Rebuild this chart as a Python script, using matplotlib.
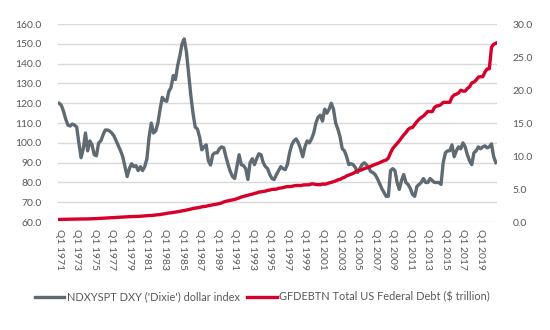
import matplotlib.pyplot as plt
from matplotlib.ticker import FormatStrFormatter, MultipleLocator

# quarterly series, Q1 1971 .. Q4 2020
years = list(range(1971, 2021))
quarters = [f"Q{q} {y}" for y in years for q in range(1, 5)]

dxy = [
    120.0, 119.0, 116.0, 112.0,   # 1971
    109.0, 108.5, 109.5, 109.0,   # 1972
    108.0, 100.0, 92.5, 97.0,     # 1973
    105.0, 96.0, 101.0, 99.0,     # 1974
    94.0, 93.5, 100.0, 101.0,     # 1975
    104.0, 106.5, 106.5, 106.0,   # 1976
    105.0, 103.5, 101.0, 98.5,    # 1977
    96.0, 93.0, 88.0, 83.0,       # 1978
    87.0, 89.5, 88.0, 88.5,       # 1979
    86.0, 88.0, 86.0, 88.0,       # 1980
    92.0, 103.0, 110.0, 105.0,    # 1981
    106.0, 110.0, 117.0, 123.0,   # 1982
    121.5, 121.0, 126.0, 128.0,   # 1983
    134.0, 132.0, 139.0, 144.0,   # 1984
    150.0, 152.5, 146.0, 135.0,   # 1985
    124.0, 115.0, 108.0, 107.0,   # 1986
    103.0, 96.5, 98.0, 99.0,      # 1987
    91.0, 88.8, 94.0, 95.0,       # 1988
    95.0, 97.0, 98.0, 97.5,       # 1989
    93.0, 89.0, 85.5, 83.0,       # 1990
    82.0, 88.0, 94.0, 89.0,       # 1991
    88.5, 87.0, 81.5, 90.0,       # 1992
    92.0, 89.0, 92.0, 94.5,       # 1993
    94.0, 90.0, 88.0, 87.0,       # 1994
    84.0, 82.0, 81.5, 84.0,       # 1995
    86.0, 88.0, 87.0, 86.5,       # 1996
    89.0, 95.0, 99.0, 101.0,      # 1997
    102.0, 100.0, 97.0, 93.0,     # 1998
    98.0, 101.0, 100.0, 102.0,    # 1999
    105.0, 110.0, 113.0, 114.0,   # 2000
    111.0, 117.0, 115.0, 117.0,   # 2001
    120.0, 117.0, 110.0, 107.0,   # 2002
    103.0, 97.0, 96.0, 93.0,      # 2003
    89.0, 89.5, 89.0, 87.5,       # 2004
    85.0, 87.0, 89.0, 90.0,       # 2005
    89.0, 87.5, 85.5, 85.0,       # 2006
    84.0, 82.0, 79.5, 77.0,       # 2007
    75.0, 73.0, 73.0, 86.0,       # 2008
    87.0, 86.0, 80.0, 76.5,       # 2009
    81.0, 84.0, 80.0, 79.0,       # 2010
    77.0, 74.0, 73.0, 78.0,       # 2011
    79.0, 80.0, 82.0, 80.0,       # 2012
    80.0, 82.0, 81.0, 80.0,       # 2013
    80.0, 80.0, 79.0, 90.0,       # 2014
    95.0, 96.0, 96.0, 99.0,       # 2015
    93.0, 96.0, 98.0, 97.0,       # 2016
    100.0, 98.0, 94.0, 91.0,      # 2017
    89.0, 95.0, 96.0, 98.0,       # 2018
    97.0, 98.0, 98.5, 97.5,       # 2019
    98.0, 99.5, 93.0, 90.0,       # 2020
]

debt = [
    0.40, 0.41, 0.42, 0.43,   # 1971
    0.43, 0.44, 0.44, 0.45,
    0.46, 0.46, 0.47, 0.47,
    0.48, 0.48, 0.49, 0.50,
    0.51, 0.53, 0.55, 0.57,   # 1975
    0.60, 0.62, 0.64, 0.66,
    0.68, 0.69, 0.71, 0.73,
    0.75, 0.77, 0.78, 0.80,
    0.82, 0.83, 0.83, 0.85,
    0.87, 0.88, 0.91, 0.94,   # 1980
    0.97, 1.00, 1.00, 1.03,
    1.08, 1.11, 1.14, 1.20,
    1.25, 1.32, 1.38, 1.41,
    1.46, 1.51, 1.57, 1.63,
    1.70, 1.74, 1.82, 1.89,   # 1985
    1.97, 2.06, 2.12, 2.17,
    2.22, 2.31, 2.35, 2.40,
    2.49, 2.55, 2.60, 2.67,
    2.74, 2.80, 2.90, 3.05,
    3.15, 3.23, 3.30, 3.36,   # 1990
    3.43, 3.54, 3.66, 3.80,
    3.88, 3.98, 4.06, 4.17,
    4.23, 4.35, 4.41, 4.54,
    4.58, 4.65, 4.69, 4.80,
    4.86, 4.95, 4.97, 4.99,   # 1995
    5.12, 5.16, 5.22, 5.32,
    5.38, 5.38, 5.41, 5.50,
    5.54, 5.55, 5.53, 5.61,
    5.65, 5.64, 5.66, 5.78,
    5.77, 5.69, 5.67, 5.66,   # 2000
    5.77, 5.73, 5.81, 5.94,
    6.01, 6.13, 6.23, 6.41,
    6.46, 6.67, 6.78, 7.00,
    7.13, 7.27, 7.38, 7.60,
    7.78, 7.84, 7.93, 8.10,   # 2005
    8.20, 8.30, 8.45, 8.60,
    8.75, 8.85, 9.00, 9.15,
    9.30, 9.40, 9.70, 10.50,
    11.13, 11.55, 11.91, 12.31,
    12.77, 13.20, 13.56, 14.03,   # 2010
    14.27, 14.34, 14.79, 15.22,
    15.58, 15.86, 16.07, 16.43,
    16.77, 16.74, 16.74, 17.35,
    17.60, 17.63, 17.82, 18.14,
    18.15, 18.15, 18.15, 18.92,   # 2015
    19.26, 19.38, 19.57, 19.98,
    19.85, 19.84, 20.24, 20.49,
    21.09, 21.20, 21.52, 21.97,
    22.03, 22.02, 22.72, 23.20,
    23.22, 26.48, 26.95, 27.10,   # 2020
]

dxy_label = "NDXYSPT DXY ('Dixie') dollar index"
debt_label = "GFDEBTN Total US Federal Debt ($ trillion)"

text_color = "#595959"
grey = "#5f6a72"
red = "#d7002b"

plt.rcParams["font.family"] = ["Lato", "DejaVu Sans"]
plt.rcParams["font.size"] = 7.5

fig, ax1 = plt.subplots(figsize=(5.5, 3.3), dpi=100)
fig.subplots_adjust(left=0.1055, right=0.9036, top=0.927, bottom=0.327)
ax2 = ax1.twinx()

x = list(range(len(quarters)))
l1, = ax1.plot(x, dxy, color=grey, lw=2.4, solid_joinstyle="round", zorder=3)
l2, = ax2.plot(x, debt, color=red, lw=2.4, solid_joinstyle="round", zorder=3)

ax1.set_xlim(-0.5, len(quarters) - 0.5)
ax1.set_ylim(60, 160)
ax2.set_ylim(0, 30)
ax1.yaxis.set_major_locator(MultipleLocator(10))
ax2.yaxis.set_major_locator(MultipleLocator(5))
ax1.yaxis.set_major_formatter(FormatStrFormatter("%.1f"))
ax2.yaxis.set_major_formatter(FormatStrFormatter("%.1f"))

ax1.grid(axis="y", color="#d9d9d9", lw=1.0)
ax1.set_axisbelow(True)

tick_pos = x[::8]
ax1.set_xticks(tick_pos)
ax1.set_xticklabels([quarters[i] for i in tick_pos], rotation=-90, va="top", ha="center")

for ax in (ax1, ax2):
    for s in ax.spines.values():
        s.set_visible(False)
    ax.tick_params(length=0, colors=text_color, labelsize=7.5)
ax1.tick_params(axis="y", pad=12)
ax2.tick_params(axis="y", pad=11)
ax1.tick_params(axis="x", pad=5)

fig.legend([l1, l2], [dxy_label, debt_label], loc="center", bbox_to_anchor=(0.477, 0.1),
           ncol=2, frameon=False, handlelength=2.7, handletextpad=0.2,
           columnspacing=0.7, labelcolor=text_color, fontsize=7.9)

fig.savefig("out.png", dpi=100)
